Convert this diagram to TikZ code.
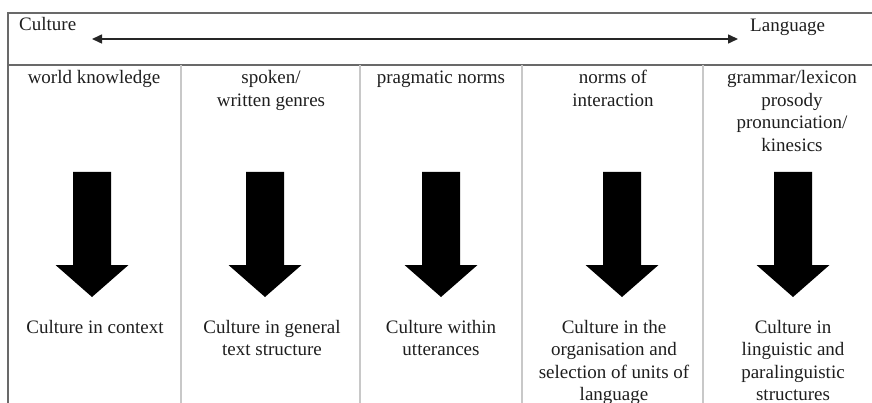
\documentclass[tikz,border=0pt]{standalone}
\usepackage{fontspec}
\setmainfont{Liberation Serif}
\usetikzlibrary{arrows.meta}
\definecolor{framegray}{RGB}{105,105,105}
\definecolor{divgray}{RGB}{200,200,200}
\definecolor{txtgray}{RGB}{30,30,30}
\newcommand\cellstack[1]{\begin{tabular}[t]{@{}c@{}}#1\end{tabular}}
\begin{document}
\begin{tikzpicture}[x=1pt,y=-1pt,
  lbl/.style={anchor=base,inner sep=0pt,text=txtgray,font=\fontsize{19}{22.5}\selectfont},
  frameline/.style={draw=framegray,line width=1.2pt},
  divline/.style={draw=divgray,line width=1.2pt},
  blockarrow/.style={fill=black},
  spanarrow/.style={{Triangle[length=10pt,width=9pt]}-{Triangle[length=10pt,width=9pt]},line width=1.5pt,draw=black!85}]
\useasboundingbox (0,0) rectangle (872,403);
% frame
\draw[frameline] (8,403) -- (8,13) -- (872,13);
\draw[frameline] (8,65) -- (872,65);
\foreach \x in {181,360,522,703} \draw[divline] (\x,65) -- (\x,403);
% top row
\node[lbl,anchor=base west] (culture) at (19,31) {Culture};
\node[lbl,anchor=base west] (language) at (750,32) {Language};
\coordinate (spanL) at (92,39);
\coordinate (spanR) at (738,39);
\draw[spanarrow] (spanL) -- (spanR);
% column heads
\node[lbl] (h1) at (94,84) {\cellstack{world knowledge}};
\node[lbl] (h2) at (271,84) {\cellstack{spoken/\\written genres}};
\node[lbl] (h3) at (441,84) {\cellstack{pragmatic norms}};
\node[lbl] (h4) at (613,84) {\cellstack{norms of\\interaction}};
\node[lbl] (h5) at (792,84) {\cellstack{grammar/lexicon\\prosody\\pronunciation/\\kinesics}};
% block arrows
\foreach \x/\n in {92/1,265/2,441/3,622/4,793/5}{
  \coordinate (ba\n) at (\x,172);
  \fill[blockarrow] (\x-19,172) -- (\x+19,172) -- (\x+19,265) -- (\x+36.5,265) -- (\x,297) -- (\x-36.5,265) -- (\x-19,265) -- cycle;
}
% column feet
\node[lbl] (f1) at (95,333) {\cellstack{Culture in context}};
\node[lbl] (f2) at (272,333) {\cellstack{Culture in general\\text structure}};
\node[lbl] (f3) at (441,333) {\cellstack{Culture within\\utterances}};
\node[lbl] (f4) at (614,333) {\cellstack{Culture in the\\organisation and\\selection of units of\\language}};
\node[lbl] (f5) at (793,333) {\cellstack{Culture in\\linguistic and\\paralinguistic\\structures}};
\end{tikzpicture}
\end{document}
